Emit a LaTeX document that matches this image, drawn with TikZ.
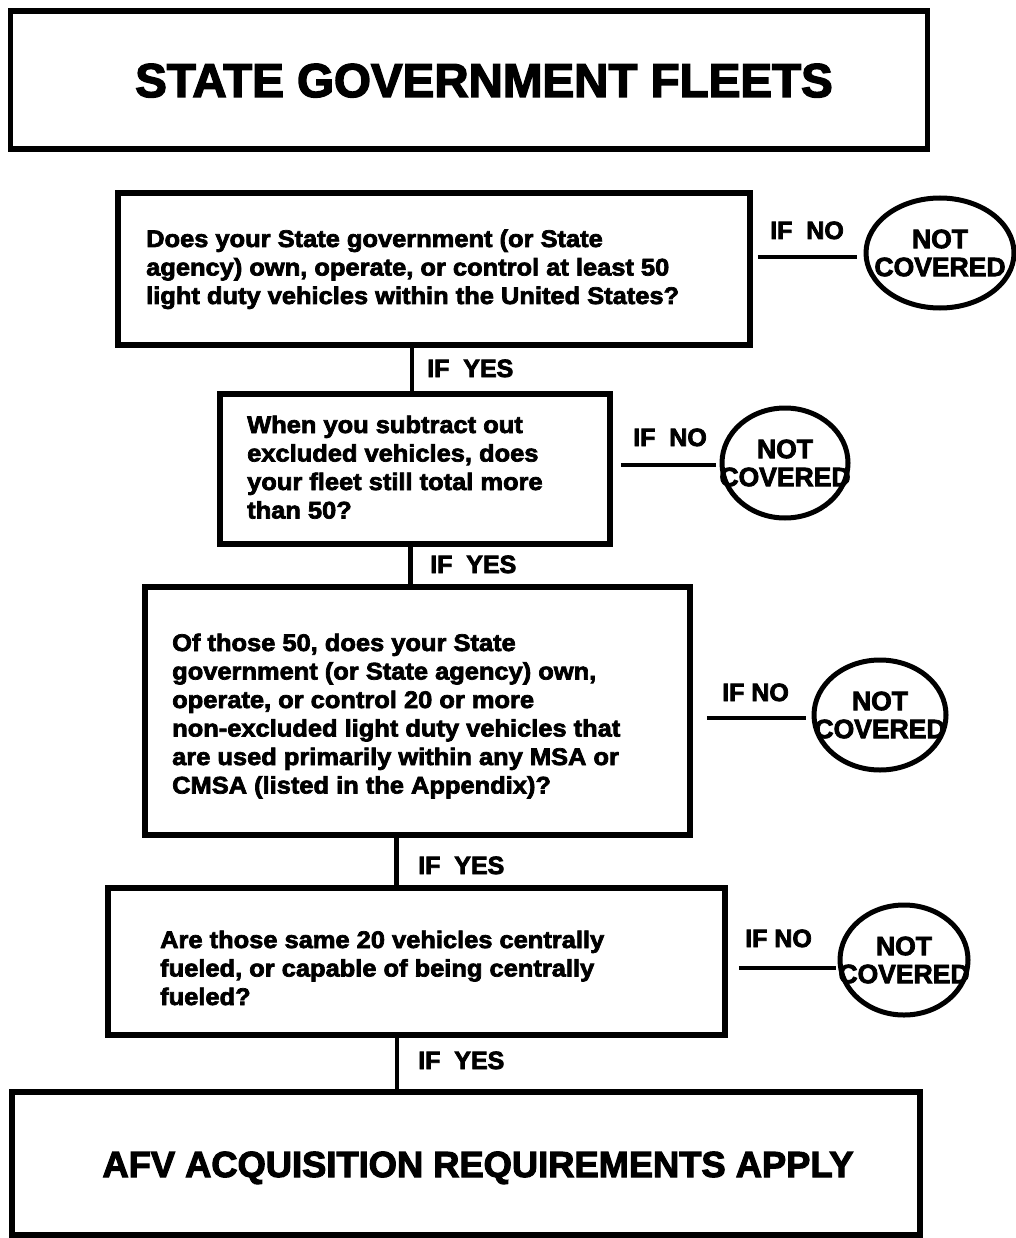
\documentclass[tikz,border=0pt]{standalone}
\usepackage{fontspec}
\setmainfont{Liberation Sans}
\newfontfamily\hvf{Liberation Sans}[BoldFeatures={FakeBold=3}]
\newfontfamily\hvbody{Liberation Sans}[BoldFeatures={FakeStretch=1.06,FakeBold=3}]
\usetikzlibrary{shapes.geometric,calc}
\begin{document}
\begin{tikzpicture}[x=1pt,y=-1pt,
  box/.style={draw, rectangle, line width=5.5pt, inner sep=0pt},
  oval/.style={draw, ellipse, line width=5pt, inner sep=0pt},
  link/.style={line width=4.5pt},
  qtext/.style={inner sep=0pt, anchor=base west, font=\hvbody\bfseries\fontsize{24}{28.5}\selectfont},
  lbl/.style={inner sep=0pt, anchor=base west, font=\hvf\bfseries\fontsize{25}{28}\selectfont},
  ntext/.style={inner sep=0pt, align=center, font=\hvf\bfseries\fontsize{26.5}{28}\selectfont},
  big/.style={inner sep=0pt, anchor=base}]
\useasboundingbox (0,0) rectangle (1016,1238);
\fill[white] (0,0) rectangle (1016,1238);

% title
\node[box, minimum width=917pt, minimum height=138pt] (title) at (469,80) {};
\node[big, font=\hvf\bfseries\fontsize{47.5}{50}\selectfont] (titletext) at (484,97) {STATE GOVERNMENT FLEETS};

% question boxes
\node[box, minimum width=632pt, minimum height=152pt] (b1) at (434,269) {};
\node[qtext] (t1) at (146,247) {\begin{tabular}[t]{@{}l@{}}Does your State government (or State\\agency) own, operate, or control at least 50\\light duty vehicles within the United States?\end{tabular}};

\node[box, minimum width=390pt, minimum height=150pt] (b2) at (415,469) {};
\node[qtext] (t2) at (247,433) {\begin{tabular}[t]{@{}l@{}}When you subtract out\\excluded vehicles, does\\your fleet still total more\\than 50?\end{tabular}};

\node[box, minimum width=545pt, minimum height=248pt] (b3) at (417.5,711) {};
\node[qtext] (t3) at (172,651) {\begin{tabular}[t]{@{}l@{}}Of those 50, does your State\\government (or State agency) own,\\operate, or control 20 or more\\non-excluded light duty vehicles that\\are used primarily within any MSA or\\CMSA (listed in the Appendix)?\end{tabular}};

\node[box, minimum width=617pt, minimum height=147pt] (b4) at (416.5,961.5) {};
\node[qtext] (t4) at (160,948) {\begin{tabular}[t]{@{}l@{}}Are those same 20 vehicles centrally\\fueled, or capable of being centrally\\fueled?\end{tabular}};

% final
\node[box, minimum width=908pt, minimum height=143pt] (fin) at (466,1163.5) {};
\node[big, font=\hvf\bfseries\fontsize{36.3}{40}\selectfont] (fintext) at (478,1177) {AFV ACQUISITION REQUIREMENTS APPLY};

% not covered ellipses
\node[oval, minimum width=148pt, minimum height=110pt] (e1) at (940,253) {};
\node[ntext] (n1) at (e1) {NOT\\COVERED};
\node[oval, minimum width=126pt, minimum height=110pt] (e2) at (785,463) {};
\node[ntext] (n2) at (e2) {NOT\\COVERED};
\node[oval, minimum width=132pt, minimum height=110pt] (e3) at (880,715) {};
\node[ntext] (n3) at (e3) {NOT\\COVERED};
\node[oval, minimum width=128pt, minimum height=110pt] (e4) at (904,960) {};
\node[ntext] (n4) at (e4) {NOT\\COVERED};

% yes connectors
\draw[link] ($(b2.north)+(-3,0)$) -- ($(b2.north |- b1.south)+(-3,0)$);
\draw[link] ($(b3.north)+(-7,0)$) -- ($(b3.north |- b2.south)+(-7,0)$);
\draw[link] ($(b4.north)+(-20,0)$) -- ($(b4.north |- b3.south)+(-20,0)$);
\draw[link] ($(fin.north |- b4.south)+(-69,0)$) -- ($(fin.north)+(-69,0)$);

\node[lbl] (y1) at (427,377) {IF\ \ YES};
\node[lbl] (y2) at (430,573) {IF\ \ YES};
\node[lbl] (y3) at (418,874) {IF\ \ YES};
\node[lbl] (y4) at (418,1069) {IF\ \ YES};

% no connectors
\draw[link] ($(b1.east |- e1.west)+(5,4)$) -- ($(e1.west)+(-7,4)$);
\draw[link] ($(b2.east |- e2.west)+(8,2)$) -- ($(e2.west)+(-4,2)$);
\draw[link] ($(b3.east |- e3.west)+(14,3)$) -- ($(e3.west)+(-6,3)$);
\draw[link] ($(b4.east |- e4.west)+(11,8)$) -- ($(e4.west)+(-2,8)$);

\node[lbl] (no1) at (770,239) {IF\ \ NO};
\node[lbl] (no2) at (633,446) {IF\ \ NO};
\node[lbl] (no3) at (722,701) {IF NO};
\node[lbl] (no4) at (745,947) {IF NO};
\end{tikzpicture}
\end{document}
